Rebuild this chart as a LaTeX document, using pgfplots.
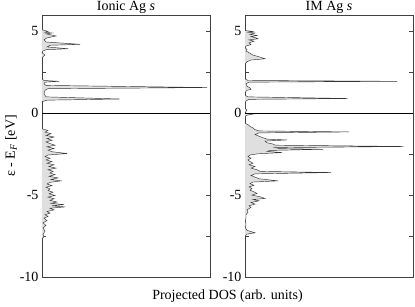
\documentclass[border=0pt]{standalone}
\usepackage{fontspec}
\setmainfont{Liberation Serif}
\usepackage{pgfplots}
\pgfplotsset{compat=1.18}
\pgfplotsset{dosax/.style={scale only axis, width=168pt, height=262pt,
  xmin=0, xmax=168, ymin=-10, ymax=6, xtick=\empty,
  ytick={-10,-5,0,5}, yticklabels={-10,-5,0,5}, minor ytick={-7.5,-2.5,2.5},
  tick align=inside, major tick length=4pt, minor tick length=4pt,
  axis line style={draw=black!75, line width=0.6pt},
  every tick/.style={black!75, line width=0.5pt},
  yticklabel style={font=\fontsize{14}{16}\selectfont},
  every axis title shift=0pt,
  title style={at={(0.5,1)}, anchor=base, yshift=4.5pt, font=\fontsize{14}{16}\selectfont},
  clip=true},
  dosfill/.style={fill=gray!25, draw=black!80, line width=0.45pt}}
\begin{document}
\begin{tikzpicture}
\useasboundingbox (-42pt,-29pt) rectangle (373pt,277pt);
\begin{axis}[dosax, title={Ionic Ag \textit{s}}]
\addplot[dosfill] coordinates {
(0,5.1) (6,5.0) (3,4.95) (10,4.9) (4,4.85) (14,4.72) (5,4.6) (2,4.5) (4,4.35) (38,4.21) (8,4.15) (5,4.05) (26,3.94) (4,3.88) (1,3.8) (0,3.7) (3,3.55) (1,3.45) (0,3.4)};
\addplot[dosfill] coordinates {
(0,2.1) (2,2.0) (17,1.95) (3,1.9) (2,1.8) (4,1.7) (165,1.57) (6,1.5) (3,1.4) (2,1.2) (4,1.0) (78,0.87) (5,0.8) (0,0.7)};
\addplot[dosfill] coordinates {
(0,-0.95) (6,-1.05) (3,-1.15) (9,-1.25) (4,-1.35) (12,-1.45) (5,-1.55) (10,-1.65) (4,-1.75) (8,-1.85) (13,-1.95) (5,-2.05) (12,-2.15) (6,-2.25) (10,-2.35) (25,-2.46) (6,-2.55) (3,-2.65) (8,-2.75) (4,-2.85) (10,-2.95) (5,-3.05) (12,-3.15) (7,-3.25) (14,-3.35) (6,-3.45) (11,-3.55) (8,-3.65) (13,-3.75) (7,-3.85) (16,-3.95) (9,-4.05) (19,-4.13) (8,-4.22) (5,-4.32) (10,-4.42) (4,-4.52) (8,-4.62) (6,-4.72) (11,-4.82) (7,-4.92) (13,-5.02) (6,-5.12) (12,-5.22) (8,-5.32) (15,-5.42) (9,-5.5) (22,-5.58) (10,-5.65) (23,-5.72) (8,-5.8) (12,-5.9) (5,-6.0) (8,-6.1) (3,-6.2) (6,-6.3) (2,-6.4) (5,-6.55) (1,-6.7) (4,-6.85) (1,-7.0) (3,-7.2) (1,-7.4) (2,-7.55) (0,-7.65)};
\addplot[black, line width=0.7pt] coordinates {(0,0) (168,0)};
\end{axis}
\begin{axis}[dosax, at={(203pt,0pt)}, title={IM Ag \textit{s}}]
\addplot[dosfill] coordinates {
(0,5.05) (8,5.0) (3,4.95) (10,4.9) (5,4.82) (12,4.75) (6,4.68) (11,4.6) (13,4.55) (4,4.48) (9,4.4) (4,4.3) (6,4.2) (1,4.1) (0,4.0) (2,3.9) (1,3.8) (4,3.7) (8,3.55) (14,3.45) (20,3.33) (6,3.25) (2,3.15) (0,3.0)};
\addplot[dosfill] coordinates {
(0,2.1) (3,2.0) (152,1.95) (4,1.9) (1,1.8) (2,1.65) (5,1.55) (6,1.46) (2,1.4) (0.5,1.3) (0,1.1) (3,1.0) (103,0.9) (4,0.85) (1,0.75) (0,0.6) (0,0.3) (2,0.2) (1,0.1) (0,0.02) (8,-0.05) (2,-0.12) (0,-0.2)};
\addplot[dosfill] coordinates {
(0,-0.6) (3,-0.7) (5,-0.8) (8,-0.9) (10,-1.0) (14,-1.08) (104,-1.14) (14,-1.2) (10,-1.3) (14,-1.4) (18,-1.5) (22,-1.58) (42,-1.63) (20,-1.7) (22,-1.8) (28,-1.88) (30,-1.95) (159,-2.03) (30,-2.1) (35,-2.16) (78,-2.2) (25,-2.27) (22,-2.33) (37,-2.4) (12,-2.48) (5,-2.55) (3,-2.65) (6,-2.75) (3,-2.85) (5,-2.95) (8,-3.05) (4,-3.15) (10,-3.25) (6,-3.35) (12,-3.45) (15,-3.55) (86,-3.62) (10,-3.7) (6,-3.8) (10,-3.9) (14,-4.0) (33,-4.13) (8,-4.2) (5,-4.3) (9,-4.4) (4,-4.5) (7,-4.6) (5,-4.7) (9,-4.8) (12,-4.9) (7,-5.0) (15,-5.1) (20,-5.2) (8,-5.27) (14,-5.35) (6,-5.45) (10,-5.55) (4,-5.65) (6,-5.75) (2,-5.9) (3,-6.05) (1,-6.2) (1,-6.4) (0.5,-6.6) (1,-6.8) (0.5,-7.0) (2,-7.15) (10,-7.3) (2,-7.38) (0,-7.5)};
\addplot[black, line width=0.7pt] coordinates {(0,0) (168,0)};
\end{axis}
\node[rotate=90, font=\fontsize{14}{16}\selectfont] at (-31pt,131pt) {ε - E\textsubscript{\textit{F}} [eV]};
\node[anchor=base, font=\fontsize{14}{16}\selectfont] at (185.5pt,-22pt) {Projected DOS (arb. units)};
\end{tikzpicture}
\end{document}
